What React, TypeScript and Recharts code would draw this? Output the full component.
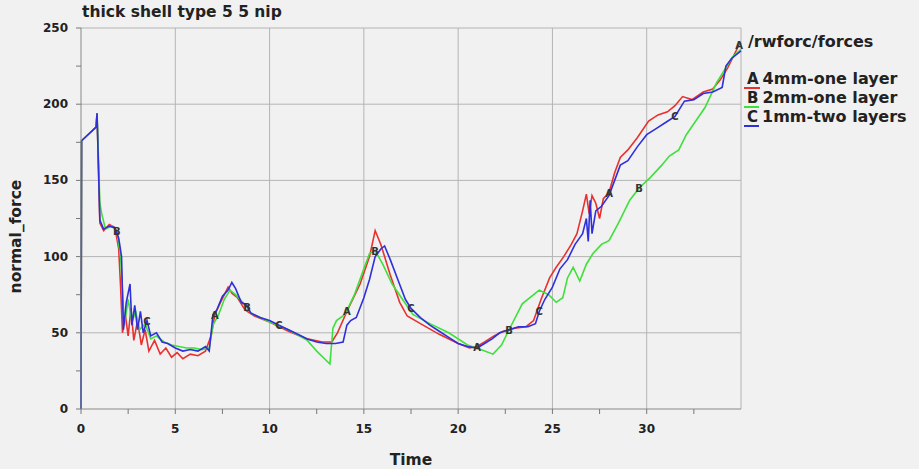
import { LineChart, Line, XAxis, YAxis, CartesianGrid } from 'recharts';

// A: 4mm-one layer
const timeA = [0, 0.03, 0.8, 0.85, 1.0, 1.2, 1.5, 1.8, 2.0, 2.1, 2.2, 2.35, 2.5, 2.65, 2.8, 3.0, 3.2, 3.4, 3.6, 3.9, 4.2, 4.5, 4.8, 5.1, 5.4, 5.8, 6.2, 6.6, 6.9, 7.1, 7.4, 7.8, 8.0, 8.3, 8.7, 9.2, 10, 11, 12, 12.8, 13.3, 13.6, 14.1, 14.8, 15.3, 15.6, 15.9, 16.4, 16.9, 17.3, 18, 19, 20, 20.6, 21.0, 21.4, 21.9, 22.4, 23, 23.6, 24, 24.4, 24.85, 25.2, 25.6, 26, 26.3, 26.6, 26.8, 26.95, 27.1, 27.3, 27.5, 27.7, 28, 28.3, 28.6, 29, 29.5, 30.1, 30.6, 31.1, 31.5, 31.9, 32.4, 33, 33.5, 33.9, 34.3, 34.9, 35];
const forceA = [0, 176, 185, 194, 122, 117, 121, 119, 105, 80, 50, 62, 48, 66, 45, 58, 42, 52, 38, 45, 36, 40, 34, 37, 33, 36, 35, 38, 48, 62, 70, 80, 76, 73, 65, 61, 57, 51, 46, 44, 44, 50, 64, 82, 100, 117, 108, 88, 70, 61, 56, 49, 43, 40, 41, 44, 48, 51, 53, 54, 58, 72, 86, 93, 100, 108, 115, 130, 141, 128, 140, 135, 125, 138, 142, 155, 165, 170, 178, 189, 193, 195, 199, 205, 203, 208, 210, 216, 224, 239, 240];

// B: 2mm-one layer
const timeB = [0, 0.03, 0.8, 0.85, 1.0, 1.1, 1.3, 1.6, 1.9, 2.1, 2.3, 2.5, 2.7, 2.9, 3.1, 3.4, 3.7, 4.0, 4.4, 4.8, 5.2, 5.6, 6.0, 6.4, 6.8, 7.0, 7.3, 7.6, 7.9, 8.2, 8.8, 9.0, 9.5, 10, 11, 12, 12.5, 13.2, 13.36, 13.55, 14, 14.5, 15, 15.3, 15.6, 16, 16.5, 17.1, 17.6, 18.5, 19.5, 20.5, 21.2, 21.85, 22.3, 22.7, 23.4, 24.3, 24.8, 25.2, 25.55, 25.8, 26.1, 26.45, 26.8, 27.15, 27.6, 28, 28.5, 29.1, 29.6, 30.2, 30.8, 31.2, 31.7, 32.1, 32.6, 33.1, 33.7, 34.1, 34.55, 35];
const forceB = [0, 176, 185, 194, 135, 128, 118, 120, 117, 100, 55, 72, 57, 64, 52, 56, 46, 48, 44, 42, 41, 40, 40, 39, 40, 55, 62, 72, 78, 75, 67, 63, 60, 57, 52, 45, 38, 29.5, 53, 58, 62, 75, 92, 102, 104, 95, 82, 71, 62, 56, 50, 42, 39, 36, 42, 52, 69, 78, 75, 70, 73, 86, 93, 84, 95, 102, 108, 110.5, 122, 137, 145, 152, 160, 166, 170, 180, 189, 198, 214, 222, 231, 236];

// C: 1mm-two layers
const timeC = [0, 0.03, 0.8, 0.85, 1.0, 1.2, 1.5, 1.8, 2.0, 2.15, 2.25, 2.4, 2.6, 2.7, 2.85, 3.0, 3.15, 3.3, 3.5, 3.7, 4.0, 4.3, 4.6, 5.0, 5.4, 5.8, 6.2, 6.6, 6.8, 7.0, 7.2, 7.5, 7.8, 8.0, 8.2, 8.5, 8.8, 9.0, 9.5, 10, 10.5, 11, 11.5, 12, 12.5, 13, 13.5, 13.9, 14.1, 14.3, 14.6, 15, 15.3, 15.6, 15.9, 16.1, 16.4, 16.8, 17.2, 17.5, 18, 18.5, 19, 19.5, 20, 20.5, 21, 21.4, 21.8, 22.2, 22.7, 23.2, 23.7, 24.1, 24.3, 24.6, 25, 25.4, 25.8, 26.2, 26.6, 26.8, 26.9, 27.0, 27.1, 27.3, 27.6, 28, 28.3, 28.6, 29, 29.5, 30, 30.5, 31, 31.5, 32, 32.5, 33, 33.5, 34, 34.2, 34.5, 35];
const forceC = [0, 176, 185, 194, 124, 118, 120, 119, 112, 100, 52, 70, 82, 55, 68, 52, 64, 50, 58, 48, 50, 44, 43, 40, 38, 39, 38, 41, 38, 62, 65, 74, 78, 83, 79, 70, 68, 63, 60, 58, 55, 52, 49, 46, 44, 43, 43, 44, 55, 58, 60, 73, 85, 100, 105, 107, 98, 85, 72, 66, 60, 55, 51, 47, 43, 41, 40, 43, 46, 50, 52, 54, 54, 56, 64, 72, 80, 92, 98, 108, 115, 125, 110, 137, 115, 130, 133, 140, 150, 160, 163, 172, 180, 184, 188, 192, 202, 203, 207, 208, 211, 225, 230, 235];

// letter markers along each curve
const markA = [7.1, 14.1, 21.0, 28, 34.9];
const markB = [1.9, 8.8, 15.6, 22.7, 29.6];
const markC = [3.5, 10.5, 17.5, 24.3, 31.5];

const xTicks = [0, 2.5, 5, 7.5, 10, 12.5, 15, 17.5, 20, 22.5, 25, 27.5, 30, 32.5];
const yTicks = [0, 25, 50, 75, 100, 125, 150, 175, 200, 225, 250];

const series = [
  { key: 'A', name: '4mm-one layer', color: '#e8312f', time: timeA, force: forceA, marks: markA },
  { key: 'B', name: '2mm-one layer', color: '#3ee03a', time: timeB, force: forceB, marks: markB },
  { key: 'C', name: '1mm-two layers', color: '#2f2fdc', time: timeC, force: forceC, marks: markC },
];

const font = '"DejaVu Sans", sans-serif';

function XTick(props: any) {
  const { x, y, payload } = props;
  const major = payload.value % 5 === 0;
  return (
    <g>
      <line x1={x} x2={x} y1={y - 1} y2={y - 6} stroke="#777" />
      {major && (
        <text x={x} y={y + 18} textAnchor="middle" fontFamily={font} fontWeight="bold" fontSize={12} fill="#222">
          {payload.value}
        </text>
      )}
    </g>
  );
}

function YTick(props: any) {
  const { x, y, payload } = props;
  const major = payload.value % 50 === 0;
  return (
    <g>
      <line x1={x + 1} x2={x + 6} y1={y} y2={y} stroke="#777" />
      {major && (
        <text x={x - 7} y={y + 4} textAnchor="end" fontFamily={font} fontWeight="bold" fontSize={12} fill="#222">
          {payload.value}
        </text>
      )}
    </g>
  );
}

function markerDot(letter: string, marks: number[]) {
  return (props: any) => {
    const { cx, cy, payload, index } = props;
    if (!marks.some((m) => Math.abs(m - payload.time) < 1e-6)) return <g key={index} />;
    return (
      <text key={index} x={cx} y={cy + 4} textAnchor="middle" fontFamily={font} fontWeight="bold" fontSize={10} fill="#333">
        {letter}
      </text>
    );
  };
}

export default function App() {
  return (
    <div style={{ position: 'absolute', left: 0, top: 0, width: 919, height: 469, background: '#f1f1f1', fontFamily: font }}>
      <div style={{ position: 'absolute', left: 82, top: 3, fontSize: 15.5, fontWeight: 'bold', color: '#222' }}>
        thick shell type 5 5 nip
      </div>
      <LineChart width={919} height={469} margin={{ top: 28, right: 178, bottom: 29, left: 10 }}>
        <CartesianGrid
          stroke="#b4b4b4"
          horizontalValues={[50, 100, 150, 200, 250]}
          verticalValues={[5, 10, 15, 20, 25, 30, 35]}
        />
        <XAxis
          type="number"
          dataKey="time"
          domain={[0, 35]}
          ticks={xTicks}
          interval={0}
          tickLine={false}
          tickMargin={0}
          tick={<XTick />}
          height={31}
          stroke="#888"
          label={{ value: 'Time', position: 'bottom', offset: 14, style: { fontFamily: font, fontWeight: 'bold', fontSize: 15.5, fill: '#222' } }}
        />
        <YAxis
          type="number"
          domain={[0, 250]}
          ticks={yTicks}
          interval={0}
          tickLine={false}
          tickMargin={0}
          tick={<YTick />}
          width={71}
          stroke="#888"
          label={{ value: 'normal_force', angle: -90, position: 'insideLeft', offset: 5, dy: 18, style: { fontFamily: font, fontWeight: 'bold', fontSize: 15.5, fill: '#222', textAnchor: 'middle' } }}
        />
        {series.map((s) => (
          <Line
            key={s.key}
            data={s.time.map((t, i) => ({ time: t, force: s.force[i] }))}
            dataKey="force"
            name={s.name}
            stroke={s.color}
            strokeWidth={1.6}
            dot={markerDot(s.key, s.marks)}
            activeDot={false}
            isAnimationActive={false}
            type="linear"
          />
        ))}
      </LineChart>
      <div style={{ position: 'absolute', left: 748, top: 32, fontSize: 16, fontWeight: 'bold', color: '#222' }}>
        /rwforc/forces
      </div>
      {series.map((s, i) => (
        <div key={s.key} style={{ position: 'absolute', left: 744, top: 69 + i * 19, fontSize: 16, fontWeight: 'bold', color: '#222', whiteSpace: 'nowrap' }}>
          <span style={{ display: 'inline-block', borderBottom: `2px solid ${s.color}`, lineHeight: '16px', padding: '0 1px 0 3px', marginRight: 3, fontSize: 15 }}>{s.key}</span>
          {s.name}
        </div>
      ))}
    </div>
  );
}
